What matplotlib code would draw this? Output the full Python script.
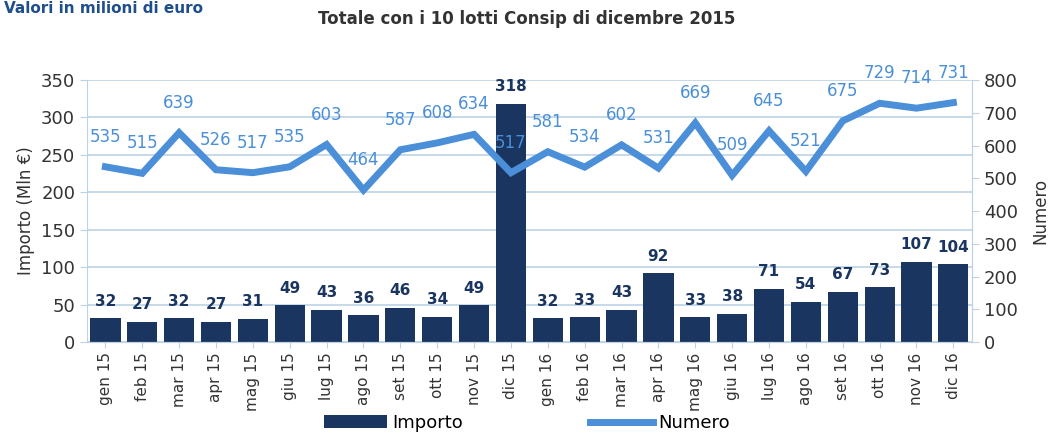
import matplotlib.pyplot as plt
import numpy as np

mesi = ['gen 15', 'feb 15', 'mar 15', 'apr 15', 'mag 15', 'giu 15', 'lug 15', 'ago 15',
        'set 15', 'ott 15', 'nov 15', 'dic 15', 'gen 16', 'feb 16', 'mar 16', 'apr 16',
        'mag 16', 'giu 16', 'lug 16', 'ago 16', 'set 16', 'ott 16', 'nov 16', 'dic 16']
importo = [32, 27, 32, 27, 31, 49, 43, 36, 46, 34, 49, 318,
           32, 33, 43, 92, 33, 38, 71, 54, 67, 73, 107, 104]
numero = [535, 515, 639, 526, 517, 535, 603, 464, 587, 608, 634, 517,
          581, 534, 602, 531, 669, 509, 645, 521, 675, 729, 714, 731]

navy = '#1b3561'
azzurro = '#4a8fd8'
griglia = '#bcd3e6'
testo = '#333333'

fig = plt.figure(figsize=(10.54, 4.36), dpi=100)
ax = fig.add_axes([0.0825, 0.2156, 0.8395, 0.6009])
ax2 = ax.twinx()

x = np.arange(len(mesi))
ax.bar(x, importo, width=0.82, color=navy, zorder=2, label='Importo')
for xi, v in zip(x, importo):
    ax.annotate(str(v), (xi, v), xytext=(0, 17), textcoords='offset pixels',
                ha='center', va='center', fontsize=11, fontweight='bold', color=navy)

ax2.plot(x, numero, color=azzurro, lw=5, solid_joinstyle='miter', zorder=3, label='Numero')
for xi, v in zip(x, numero):
    ax2.annotate(str(v), (xi, v), xytext=(0, 30), textcoords='offset pixels',
                 ha='center', va='center', fontsize=12, color=azzurro)

ax.set_xlim(-0.5, len(mesi) - 0.5)
ax.set_ylim(0, 350)
ax.set_yticks(range(0, 351, 50))
ax2.set_ylim(0, 800)
ax2.set_yticks(range(0, 801, 100))
ax.set_xticks(x)
ax.set_xticklabels(mesi, rotation=90, fontsize=11, color=testo)

ax.set_zorder(ax2.get_zorder() - 1)
ax.patch.set_visible(False)
ax.yaxis.grid(True, color=griglia, lw=1.2, zorder=0)
ax.set_axisbelow(True)

for a in (ax, ax2):
    for s in a.spines.values():
        s.set_color(griglia)
    a.spines['top'].set_visible(False)
    a.tick_params(axis='y', labelsize=13, colors=testo, color=griglia, length=5)
    a.tick_params(axis='x', color=griglia, length=4)
ax2.spines['left'].set_visible(False)

ax.set_ylabel('Importo (Mln €)', fontsize=12, color=testo, labelpad=4)
ax2.set_ylabel('Numero', fontsize=12, color=testo, labelpad=10)

fig.text(0.5, 0.957, 'Totale con i 10 lotti Consip di dicembre 2015', ha='center', va='center',
         fontsize=12, fontweight='bold', color=testo)
fig.text(0.004, 0.998, 'Valori in milioni di euro', ha='left', va='top',
         fontsize=11, fontweight='bold', color='#1f4e8c')

h1, l1 = ax.get_legend_handles_labels()
h2, l2 = ax2.get_legend_handles_labels()
fig.legend(h1 + h2, l1 + l2, loc='center', bbox_to_anchor=(0.5, 0.03), ncol=2,
           frameon=False, fontsize=13, handlelength=3.5, columnspacing=7, handletextpad=0.3)

fig.savefig('out.png', dpi=100)
